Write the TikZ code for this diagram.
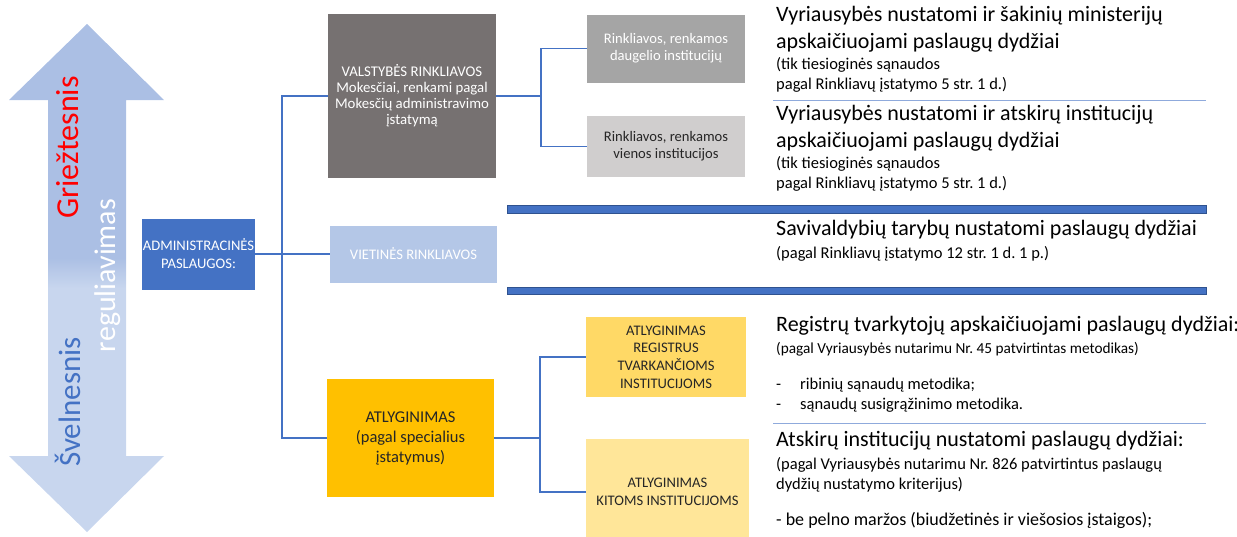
\documentclass[tikz,border=0pt]{standalone}
\usepackage{fontspec}
\setmainfont{Carlito}
\usetikzlibrary{positioning}
\definecolor{AccentBlue}{HTML}{4472C4}
\definecolor{DarkBlue}{HTML}{2F528F}
\definecolor{PaleBlue}{HTML}{B4C7E7}
\definecolor{RuleBlue}{HTML}{8FAADC}
\definecolor{DarkGray}{HTML}{767171}
\definecolor{MidGray}{HTML}{A5A5A5}
\definecolor{LightGray}{HTML}{D0CECE}
\definecolor{Gold}{HTML}{FFC000}
\definecolor{Sand}{HTML}{FFD966}
\definecolor{Cream}{HTML}{FFE699}
\definecolor{Ink}{HTML}{262626}
\definecolor{ArrowTop}{HTML}{ABBFE4}
\definecolor{ArrowLow}{HTML}{C8D6EE}
\pgfdeclareverticalshading{arrowfade}{100bp}{color(0bp)=(ArrowLow); color(49bp)=(ArrowLow); color(52bp)=(ArrowTop); color(100bp)=(ArrowTop)}
\frenchspacing

\begin{document}
\begin{tikzpicture}[x=1pt,y=-1pt,
    box/.style={align=center,inner sep=0pt,font=\fontsize{14.6}{17}\selectfont},
    head/.style={anchor=north west,align=left,inner sep=0pt,text=black,font=\fontsize{22}{27}\selectfont},
    note/.style={anchor=north west,align=left,inner sep=0pt,text=black,font=\fontsize{16.5}{20}\selectfont},
    bus/.style={AccentBlue,line width=1.5pt},
    side/.style={rotate=90,inner sep=0pt,font=\fontsize{30}{34}\selectfont}]
  \useasboundingbox (0,0) rectangle (1237,536);

  % double arrow on the left
  \shade[shading=arrowfade] (87,24) -- (164,100) -- (126,100) -- (126,456) -- (164,456)
    -- (87,532) -- (9,456) -- (48,456) -- (48,100) -- (9,100) -- cycle;
  \node[side,text=red,font=\fontsize{32}{36}\selectfont] (strict) at (68,147.5) {Griežtesnis};
  \node[side,text=white] (regul) at (108,275.5) {reguliavimas};
  \node[side,text=AccentBlue,font=\fontsize{31}{35}\selectfont] (mild) at (68,402) {Švelnesnis};

  % boxes
  \node[box,fill=AccentBlue,text=white,minimum width=113pt,minimum height=71pt,font=\fontsize{14.6}{18}\selectfont] (admin) at (198.5,254) {ADMINISTRACINĖS\\PASLAUGOS:};
  \node[box,fill=DarkGray,text=white,minimum width=168pt,minimum height=164pt,font=\fontsize{14.8}{16}\selectfont] (valst) at (412,96) {VALSTYBĖS RINKLIAVOS\\Mokesčiai, renkami pagal\\Mokesčių administravimo\\įstatymą};
  \node[box,fill=PaleBlue,text=white,minimum width=167pt,minimum height=57pt] (viet) at (413.5,254) {VIETINĖS RINKLIAVOS};
  \node[box,fill=Gold,text=Ink,minimum width=167pt,minimum height=118pt,font=\fontsize{16.5}{20}\selectfont] (atlyg) at (410.5,438) {ATLYGINIMAS\\(pagal specialius\\įstatymus)};

  \node[box,fill=MidGray,text=white,minimum width=158pt,minimum height=68pt] (daug) at (666,48.5) {Rinkliavos, renkamos\\daugelio institucijų};
  \node[box,fill=LightGray,text=Ink,minimum width=158pt,minimum height=61pt] (vien) at (666,146.5) {Rinkliavos, renkamos\\vienos institucijos};
  \node[box,fill=Sand,text=Ink,minimum width=160pt,minimum height=80pt,font=\fontsize{14.6}{17.7}\selectfont] (regist) at (666,357) {ATLYGINIMAS\\REGISTRUS\\TVARKANČIOMS\\INSTITUCIJOMS};
  \node[box,fill=Cream,text=Ink,minimum width=163pt,minimum height=106pt,font=\fontsize{14.6}{18}\selectfont] (kitoms) at (667.5,492) {ATLYGINIMAS\\KITOMS INSTITUCIJOMS};

  % connectors
  \coordinate (busA) at (282,254);
  \coordinate (busB) at (541,96);
  \coordinate (busC) at (540,438);
  \draw[bus] (admin.east) -- (viet.west);
  \draw[bus] (valst.west) -| (busA) |- (atlyg.west);
  \draw[bus] (valst.east) -- (busB);
  \draw[bus] (daug.west) -| (busB) |- (vien.west);
  \draw[bus] (atlyg.east) -- (busC);
  \draw[bus] (regist.west) -| (busC) |- (kitoms.west);

  % separators
  \draw[RuleBlue,line width=0.8pt] (773,100) -- (1206,100);
  \draw[RuleBlue,line width=0.8pt] (773,423) -- (1206,423);
  \filldraw[fill=AccentBlue,draw=DarkBlue,line width=0.6pt] (507,205) rectangle (1206,213);
  \filldraw[fill=AccentBlue,draw=DarkBlue,line width=0.6pt] (507,287) rectangle (1206,294);

  % texts on the right
  \node[head] (h1) at (776,6) {Vyriausybės nustatomi ir šakinių ministerijų\\apskaičiuojami paslaugų dydžiai};
  \node[note] (n1) at (776,57.5) {(tik tiesioginės sąnaudos\\pagal Rinkliavų įstatymo 5 str. 1 d.)};
  \node[head] (h2) at (776,105) {Vyriausybės nustatomi ir atskirų institucijų\\apskaičiuojami paslaugų dydžiai};
  \node[note] (n2) at (776,156.5) {(tik tiesioginės sąnaudos\\pagal Rinkliavų įstatymo 5 str. 1 d.)};
  \node[head] (h3) at (776,220) {Savivaldybių tarybų nustatomi paslaugų dydžiai};
  \node[note] (n3) at (776,246.5) {(pagal Rinkliavų įstatymo 12 str. 1 d. 1 p.)};
  \node[head] (h4) at (776,316) {Registrų tvarkytojų apskaičiuojami paslaugų dydžiai:};
  \node[note,font=\fontsize{15.3}{20}\selectfont] (n4) at (776,342.3) {(pagal Vyriausybės nutarimu Nr. 45 patvirtintas metodikas)};
  \node[note] (b4) at (776,377.5) {\makebox[24pt][l]{-}ribinių sąnaudų metodika;\\\makebox[24pt][l]{-}sąnaudų susigrąžinimo metodika.};
  \node[head] (h5) at (776,431) {Atskirų institucijų nustatomi paslaugų dydžiai:};
  \node[note] (n5) at (776,457.5) {(pagal Vyriausybės nutarimu Nr. 826 patvirtintus paslaugų\\dydžių nustatymo kriterijus)};
  \node[note,font=\fontsize{18}{21}\selectfont] (b5) at (776,512) {- be pelno maržos (biudžetinės ir viešosios įstaigos);};
\end{tikzpicture}
\end{document}
